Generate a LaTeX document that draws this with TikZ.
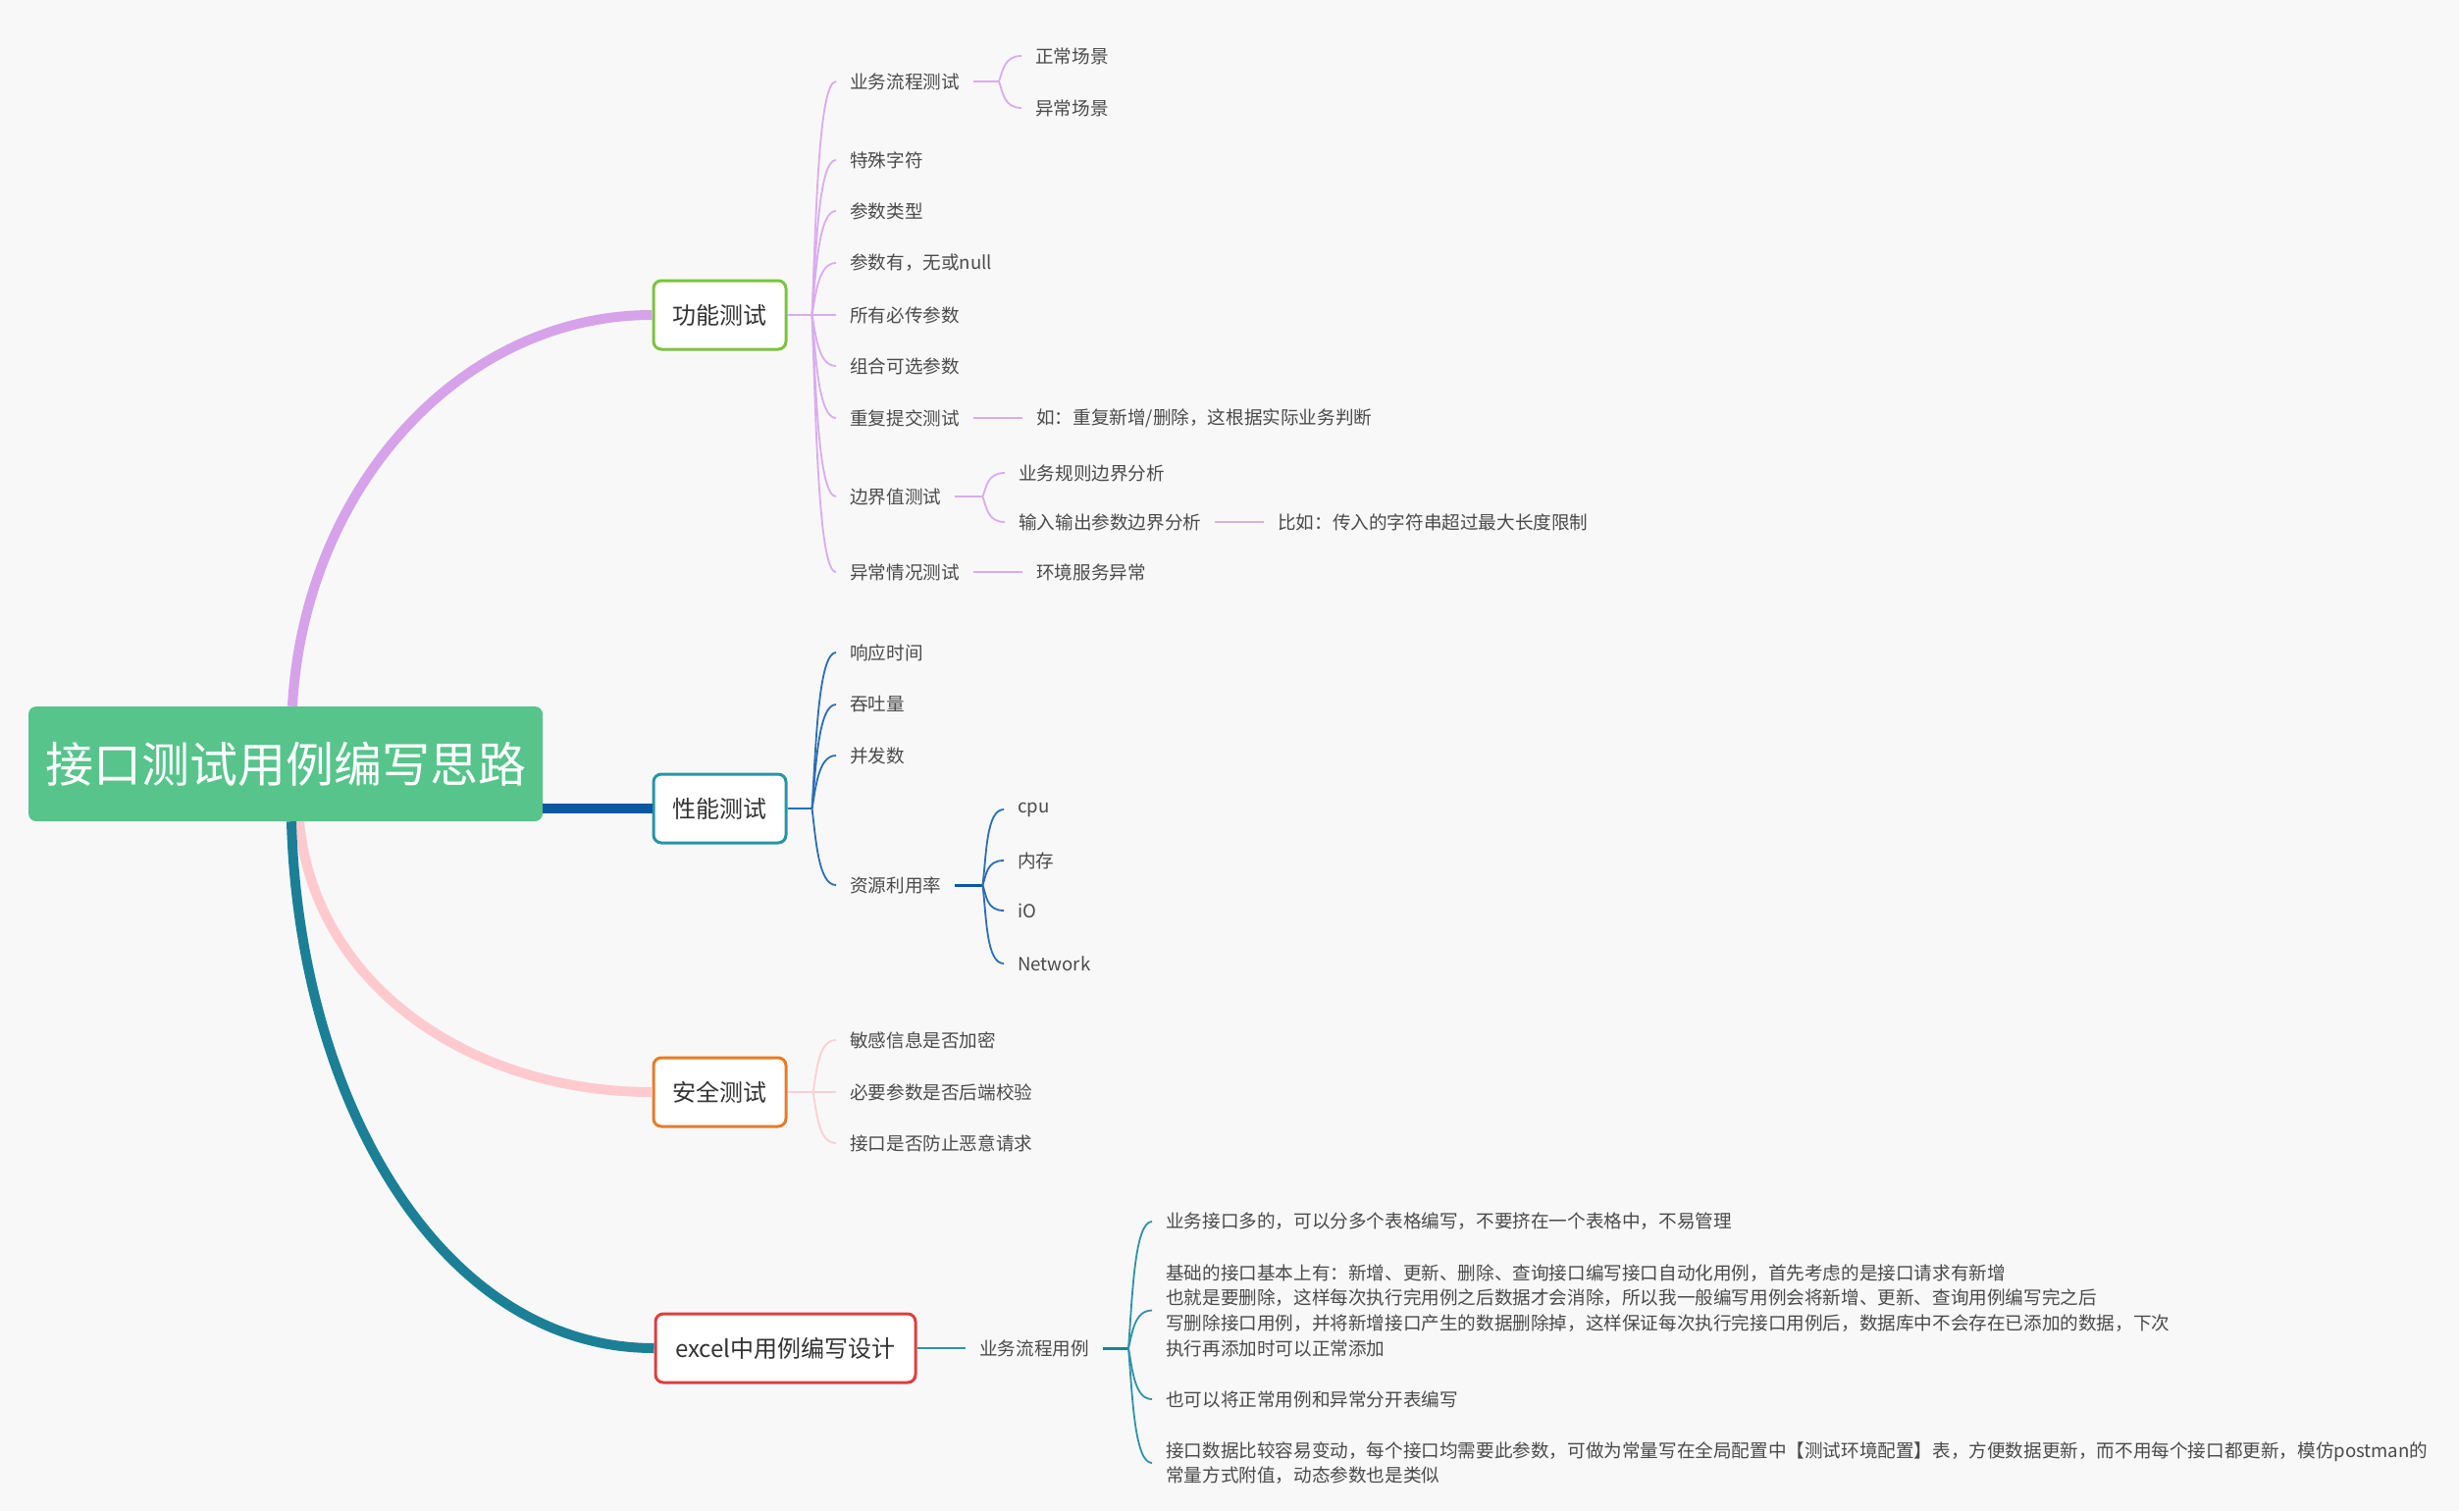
\documentclass[tikz,border=0pt]{standalone}
\usepackage{fontspec}
\setmainfont{Noto Sans CJK SC}
\usetikzlibrary{calc}
\definecolor{bgc}{RGB}{248,248,248}
\definecolor{rootgreen}{RGB}{86,196,139}
\definecolor{funcpurple}{RGB}{214,162,234}
\definecolor{functhin}{RGB}{218,172,238}
\definecolor{perfblue}{RGB}{12,86,166}
\definecolor{perfthin}{RGB}{44,110,180}
\definecolor{safepink}{RGB}{255,202,206}
\definecolor{safethin}{RGB}{250,208,212}
\definecolor{xlsteal}{RGB}{27,128,150}
\definecolor{xlsthin}{RGB}{48,146,168}
\definecolor{boxgreen}{RGB}{126,194,66}
\definecolor{boxteal}{RGB}{36,150,164}
\definecolor{boxorange}{RGB}{230,124,40}
\definecolor{boxred}{RGB}{224,62,62}
\definecolor{txt}{RGB}{74,74,74}
\begin{document}
\begin{tikzpicture}[x=1pt, y=-1pt,
  topic/.style={draw=#1, line width=3pt, fill=white, rounded corners=8pt, minimum width=135pt, minimum height=70pt, inner sep=0pt, text=black!80, font=\fontsize{24}{28}\selectfont},
  leaf/.style={anchor=west, inner xsep=14pt, inner ysep=2pt, align=left, text=txt, font=\fontsize{18.6}{25.7}\selectfont},
  trunk/.style={draw=#1, line width=10pt},
  twig/.style={draw=#1, line width=1.8pt}]
\fill[bgc] (0,0) rectangle (2506,1540);
% central topic and main branches
\node[fill=rootgreen, rounded corners=8pt, minimum width=524pt, minimum height=117pt, inner sep=0pt, text=white, font=\fontsize{49}{56}\selectfont] (root) at (291,778.5) {接口测试用例编写思路};
\node[topic=boxgreen] (func) at (733.5,321) {功能测试};
\node[topic=boxteal] (perf) at (733.5,824) {性能测试};
\node[topic=boxorange] (safe) at (733.5,1113) {安全测试};
\node[topic=boxred, minimum width=265pt] (xls) at (800.5,1374) {excel中用例编写设计};
\draw[trunk=funcpurple] ([xshift=7pt]root.north) .. controls +(12,-220) and +(-197,0) .. (func.west);
\draw[trunk=perfblue] (root.east |- perf.west) -- (perf.west);
\draw[trunk=safepink] ([xshift=14pt]root.south) .. controls +(15,165) and +(-187,0) .. (safe.west);
\draw[trunk=xlsteal] ([xshift=6pt]root.south) .. controls +(8,285) and +(-217,0) .. (xls.west);
% 功能测试
\node[leaf] (f1) at (852,83) {业务流程测试};
\node[leaf] (f2) at (852,163) {特殊字符};
\node[leaf] (f3) at (852,215) {参数类型};
\node[leaf] (f4) at (852,268) {参数有，无或null};
\node[leaf] (f5) at (852,321) {所有必传参数};
\node[leaf] (f6) at (852,373) {组合可选参数};
\node[leaf] (f7) at (852,426) {重复提交测试};
\node[leaf] (f8) at (852,506) {边界值测试};
\node[leaf] (f9) at (852,583) {异常情况测试};
\coordinate (ff) at ([xshift=25pt]func.east);
\draw[twig=functhin] (func.east) -- (ff);
\foreach \c in {f1,f2,f3,f4,f5,f6,f7,f8,f9}
  \draw[twig=functhin] (ff) .. controls ($(ff)!0.4!(ff |- \c.west)+(4,0)$) and ([xshift=-18pt]\c.west) .. (\c.west);
\node[leaf] (f1a) at (1041,57) {正常场景};
\node[leaf] (f1b) at (1041,110) {异常场景};
\coordinate (f1f) at ([xshift=26pt]f1.east);
\draw[twig=functhin] (f1.east) -- (f1f);
\foreach \c in {f1a,f1b}
  \draw[twig=functhin] (f1f) .. controls ($(f1f)!0.4!(f1f |- \c.west)+(4,0)$) and ([xshift=-18pt]\c.west) .. (\c.west);
\node[leaf] (f7a) at (1042,426) {如：重复新增/删除，这根据实际业务判断};
\draw[twig=functhin] (f7.east) -- (f7a.west);
\node[leaf] (f8a) at (1024,482) {业务规则边界分析};
\node[leaf] (f8b) at (1024,532) {输入输出参数边界分析};
\coordinate (f8f) at ([xshift=28pt]f8.east);
\draw[twig=functhin] (f8.east) -- (f8f);
\foreach \c in {f8a,f8b}
  \draw[twig=functhin] (f8f) .. controls ($(f8f)!0.4!(f8f |- \c.west)+(4,0)$) and ([xshift=-18pt]\c.west) .. (\c.west);
\node[leaf] (f8c) at (1288,532) {比如：传入的字符串超过最大长度限制};
\draw[twig=functhin] (f8b.east) -- (f8c.west);
\node[leaf] (f9a) at (1042,583) {环境服务异常};
\draw[twig=functhin] (f9.east) -- (f9a.west);
% 性能测试
\node[leaf] (p1) at (852,665) {响应时间};
\node[leaf] (p2) at (852,718) {吞吐量};
\node[leaf] (p3) at (852,770) {并发数};
\node[leaf] (p4) at (852,902) {资源利用率};
\coordinate (pf) at ([xshift=25pt]perf.east);
\draw[twig=perfthin] (perf.east) -- (pf);
\foreach \c in {p1,p2,p3,p4}
  \draw[twig=perfthin] (pf) .. controls ($(pf)!0.4!(pf |- \c.west)+(4,0)$) and ([xshift=-18pt]\c.west) .. (\c.west);
\node[leaf] (p4a) at (1023,825) {cpu};
\node[leaf] (p4b) at (1023,877) {内存};
\node[leaf] (p4c) at (1023,928) {iO};
\node[leaf] (p4d) at (1023,982) {Network};
\coordinate (p4f) at ([xshift=28pt]p4.east);
\draw[twig=perfblue, line width=3pt] (p4.east) -- (p4f);
\foreach \c in {p4a,p4b,p4c,p4d}
  \draw[twig=perfthin] (p4f) .. controls ($(p4f)!0.4!(p4f |- \c.west)+(4,0)$) and ([xshift=-18pt]\c.west) .. (\c.west);
% 安全测试
\node[leaf] (s1) at (852,1060) {敏感信息是否加密};
\node[leaf] (s2) at (852,1113) {必要参数是否后端校验};
\node[leaf] (s3) at (852,1165) {接口是否防止恶意请求};
\coordinate (sf) at ([xshift=26pt]safe.east);
\draw[twig=safethin] (safe.east) -- (sf);
\foreach \c in {s1,s2,s3}
  \draw[twig=safethin] (sf) .. controls ($(sf)!0.4!(sf |- \c.west)+(4,0)$) and ([xshift=-18pt]\c.west) .. (\c.west);
% excel中用例编写设计
\node[leaf] (x1) at (984,1374) {业务流程用例};
\draw[twig=xlsthin] (xls.east) -- (x1.west);
\node[leaf] (x1a) at (1174,1245) {业务接口多的，可以分多个表格编写，不要挤在一个表格中，不易管理};
\node[leaf] (x1b) at (1174,1335.5) {基础的接口基本上有：新增、更新、删除、查询接口编写接口自动化用例，首先考虑的是接口请求有新增\\也就是要删除，这样每次执行完用例之后数据才会消除，所以我一般编写用例会将新增、更新、查询用例编写完之后\\写删除接口用例，并将新增接口产生的数据删除掉，这样保证每次执行完接口用例后，数据库中不会存在已添加的数据，下次\\执行再添加时可以正常添加};
\node[leaf] (x1c) at (1174,1426) {也可以将正常用例和异常分开表编写};
\node[leaf] (x1d) at (1174,1491) {接口数据比较容易变动，每个接口均需要此参数，可做为常量写在全局配置中【测试环境配置】表，方便数据更新，而不用每个接口都更新，模仿postman的\\常量方式附值，动态参数也是类似};
\coordinate (x1f) at ([xshift=26pt]x1.east);
\draw[twig=xlsteal, line width=3pt] (x1.east) -- (x1f);
\foreach \c in {x1a,x1b,x1c,x1d}
  \draw[twig=xlsthin] (x1f) .. controls ($(x1f)!0.4!(x1f |- \c.west)+(4,0)$) and ([xshift=-18pt]\c.west) .. (\c.west);
\end{tikzpicture}
\end{document}
